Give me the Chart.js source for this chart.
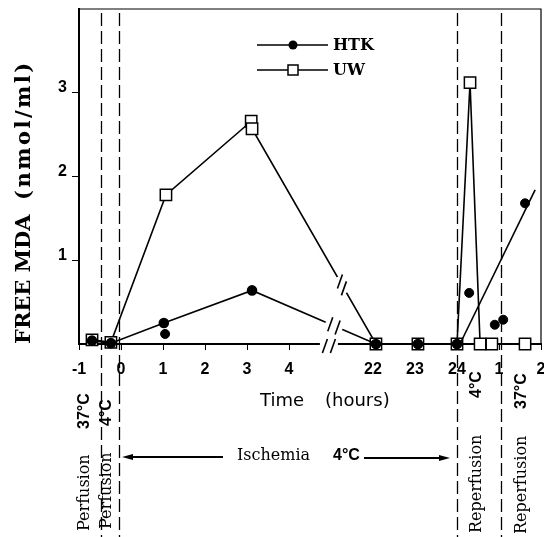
<!DOCTYPE html>
<html>
<head>
<meta charset="utf-8">
<script src="https://cdn.jsdelivr.net/npm/chart.js@4.4.1/dist/chart.umd.min.js"></script>
<style>
  html, body { margin: 0; padding: 0; background: #fff; }
</style>
</head>
<body>
<canvas id="mdaChart" width="544" height="537"></canvas>
<script>
// Time axis is compressed: -1..4 h, a break, then 22-24 h of ischemia, then reperfusion hours
const xTickLabels = ["-1", "0", "1", "2", "3", "4", "", "22", "23", "24", "1", "2"];
const yTickLabels = ["", "1", "2", "3", ""];

// UW (open squares)
const uwTime = [-0.69, -0.24, 1.07, 3.1, 3.12, 6.07, 7.07, 8.0, 8.31, 8.55, 8.83, 9.62];
const uwMda  = [0.05, 0.02, 1.78, 2.66, 2.57, 0, 0, 0, 3.12, 0, 0, 0];

// HTK (filled circles) joined by the line
const htkTime = [-0.69, -0.24, 1.02, 3.12, 6.07, 7.07, 8.0];
const htkMda  = [0.04, 0.01, 0.25, 0.64, 0, 0, 0];
// HTK values off the line
const htkExtraTime = [1.05, 8.29, 8.9, 9.1, 9.62];
const htkExtraMda  = [0.12, 0.61, 0.23, 0.29, 1.68];
// HTK trend line in reperfusion
const htkTrendTime = [8.07, 9.86];
const htkTrendMda  = [0, 1.84];

// phase boundaries (dashed lines) and where the axis break "//" sits
const phaseBounds = [-0.48, -0.05, 8.0, 9.05];
const breakAxis = 4.95, breakHtk = 5.07, breakUw = 5.26;

const pts = (xs, ys) => xs.map((x, i) => ({ x: x, y: ys[i] }));

function lineAt(xs, ys, u, sx, sy) {
    let i = 0;
    while (i < xs.length - 2 && xs[i + 1] < u) i++;
    const x1 = sx.getPixelForValue(xs[i]), y1 = sy.getPixelForValue(ys[i]);
    const x2 = sx.getPixelForValue(xs[i + 1]), y2 = sy.getPixelForValue(ys[i + 1]);
    const px = sx.getPixelForValue(u);
    const t = (px - x1) / (x2 - x1);
    const len = Math.hypot(x2 - x1, y2 - y1);
    return { px: px, py: y1 + t * (y2 - y1), dx: (x2 - x1) / len, dy: (y2 - y1) / len };
}

function breakMark(ctx, b) {
    ctx.save();
    ctx.strokeStyle = "#fff";
    ctx.lineWidth = 6;
    ctx.beginPath();
    ctx.moveTo(b.px - b.dx * 9, b.py - b.dy * 9);
    ctx.lineTo(b.px + b.dx * 9, b.py + b.dy * 9);
    ctx.stroke();
    ctx.strokeStyle = "#000";
    ctx.lineWidth = 1.6;
    [-4, 4].forEach(o => {
        const cx = b.px + b.dx * o, cy = b.py + b.dy * o;
        ctx.beginPath();
        ctx.moveTo(cx - 2.5, cy + 7);
        ctx.lineTo(cx + 2.5, cy - 7);
        ctx.stroke();
    });
    ctx.restore();
}

function vtext(ctx, str, x, yBottom, font, spacing) {
    ctx.save();
    ctx.translate(x, yBottom);
    ctx.rotate(-Math.PI / 2);
    ctx.font = font;
    ctx.letterSpacing = spacing || "0px";
    ctx.textAlign = "left";
    ctx.textBaseline = "middle";
    ctx.fillText(str, 0, 0);
    ctx.restore();
}

function arrow(ctx, x1, x2, y) {
    const dir = Math.sign(x2 - x1);
    ctx.beginPath();
    ctx.moveTo(x1, y);
    ctx.lineTo(x2 - dir * 8, y);
    ctx.stroke();
    ctx.beginPath();
    ctx.moveTo(x2, y);
    ctx.lineTo(x2 - dir * 11, y - 3);
    ctx.lineTo(x2 - dir * 11, y + 3);
    ctx.closePath();
    ctx.fill();
}

const serif = "'DejaVu Serif', serif";
const sans = "'DejaVu Sans', sans-serif";
const helv = "'Liberation Sans', Arial, sans-serif";

const decorations = {
    id: "decorations",
    beforeDatasetsDraw(chart) {
        const { ctx, chartArea: a, scales: { x } } = chart;
        ctx.save();
        ctx.strokeStyle = "#000";
        ctx.lineWidth = 1.3;
        ctx.setLineDash([13, 5]);
        phaseBounds.forEach(u => {
            const px = Math.round(x.getPixelForValue(u)) + 0.5;
            ctx.beginPath();
            ctx.moveTo(px, a.top + 4);
            ctx.lineTo(px, 537);
            ctx.stroke();
        });
        ctx.restore();
        // frame top + right
        ctx.save();
        ctx.strokeStyle = "#000";
        ctx.lineWidth = 1.2;
        ctx.beginPath();
        ctx.moveTo(a.left, a.top);
        ctx.lineTo(a.right, a.top);
        ctx.lineTo(a.right, a.bottom);
        ctx.stroke();
        ctx.restore();
    },
    afterDatasetsDraw(chart) {
        const { ctx, chartArea: a, scales: { x, y } } = chart;
        breakMark(ctx, { px: x.getPixelForValue(breakAxis), py: a.bottom + 2, dx: 1, dy: 0 });
        breakMark(ctx, lineAt(htkTime, htkMda, breakHtk, x, y));
        breakMark(ctx, lineAt(uwTime, uwMda, breakUw, x, y));
    },
    afterDraw(chart) {
        const { ctx } = chart;
        ctx.save();
        ctx.fillStyle = "#000";
        ctx.strokeStyle = "#000";

        // y title
        vtext(ctx, "FREE MDA", 25, 344, "bold 21px " + serif);
        vtext(ctx, "(nmol/ml)", 25, 200, "bold 21px " + serif, "2.5px");

        // x title
        ctx.font = "18px " + sans;
        ctx.textAlign = "left";
        ctx.textBaseline = "middle";
        ctx.fillText("Time", 260, 401);
        ctx.fillText("(hours)", 325, 401);

        // legend
        ctx.lineWidth = 1.5;
        ctx.beginPath();
        ctx.moveTo(257, 45); ctx.lineTo(328, 45);
        ctx.moveTo(257, 70); ctx.lineTo(328, 70);
        ctx.stroke();
        ctx.beginPath();
        ctx.arc(293, 45, 4.5, 0, Math.PI * 2);
        ctx.fill();
        ctx.fillStyle = "#fff";
        ctx.fillRect(288, 65, 10, 10);
        ctx.strokeRect(288, 65, 10, 10);
        ctx.fillStyle = "#000";
        ctx.font = "bold 16px " + serif;
        ctx.fillText("HTK", 333, 46);
        ctx.fillText("UW", 333, 71);

        // phases below the axis
        const phaseFont = "16px " + serif;
        const degFont = "bold 16px " + helv;
        vtext(ctx, "Perfusion", 85, 531, phaseFont);
        vtext(ctx, "37°C", 85, 429, degFont);
        vtext(ctx, "Perfusion", 107, 529, phaseFont);
        vtext(ctx, "4°C", 107, 426, degFont);
        vtext(ctx, "Reperfusion", 477, 533, phaseFont);
        vtext(ctx, "4°C", 477, 398, degFont);
        vtext(ctx, "Reperfusion", 522, 534, phaseFont);
        vtext(ctx, "37°C", 522, 409, degFont);

        ctx.font = phaseFont;
        ctx.fillText("Ischemia", 237, 456);
        ctx.font = degFont;
        ctx.fillText("4°C", 333, 456);
        ctx.lineWidth = 2;
        arrow(ctx, 223, 122, 457);
        arrow(ctx, 364, 450, 458);
        ctx.restore();
    }
};

new Chart(document.getElementById("mdaChart"), {
    type: "scatter",
    data: {
        datasets: [
            {
                label: "HTK",
                data: pts(htkTime, htkMda),
                showLine: true,
                borderColor: "#000",
                borderWidth: 1.6,
                pointStyle: "circle",
                pointRadius: 4.5,
                pointBackgroundColor: "#000",
                pointBorderColor: "#000",
                clip: false
            },
            {
                label: "HTK extra",
                data: pts(htkExtraTime, htkExtraMda),
                showLine: false,
                pointStyle: "circle",
                pointRadius: 4.5,
                pointBackgroundColor: "#000",
                pointBorderColor: "#000",
                clip: false
            },
            {
                label: "HTK trend",
                data: pts(htkTrendTime, htkTrendMda),
                showLine: true,
                borderColor: "#000",
                borderWidth: 1.6,
                pointRadius: 0,
                clip: false
            },
            {
                label: "UW",
                data: pts(uwTime, uwMda),
                showLine: true,
                borderColor: "#000",
                borderWidth: 1.6,
                pointStyle: "rect",
                pointRadius: 8,
                pointBackgroundColor: "#fff",
                pointBorderColor: "#000",
                pointBorderWidth: 1.5,
                clip: false
            }
        ]
    },
    options: {
        responsive: false,
        animation: false,
        events: [],
        layout: { autoPadding: false, padding: { top: 9, right: 3, left: 0, bottom: 0 } },
        plugins: { legend: { display: false }, tooltip: { enabled: false } },
        scales: {
            x: {
                type: "linear",
                min: -1,
                max: 10,
                afterFit: s => { s.height = 193; s.paddingLeft = 0; s.paddingRight = 0; },
                grid: {
                    drawOnChartArea: false,
                    tickLength: 6,
                    tickColor: c => (c.tick && c.tick.value === 5 ? "rgba(0,0,0,0)" : "#000")
                },
                border: { color: "#000", width: 2 },
                ticks: {
                    stepSize: 1,
                    autoSkip: false,
                    maxRotation: 0,
                    padding: 10,
                    color: "#000",
                    font: { family: "Liberation Sans", size: 16, weight: "bold" },
                    callback: v => xTickLabels[v + 1] || ""
                }
            },
            y: {
                min: 0,
                max: 4,
                afterFit: s => { s.width = 79; s.paddingTop = 0; s.paddingBottom = 0; },
                grid: {
                    drawOnChartArea: false,
                    tickLength: 7,
                    tickColor: c => (c.tick && yTickLabels[c.tick.value] ? "#000" : "rgba(0,0,0,0)")
                },
                border: { color: "#000", width: 2 },
                ticks: {
                    stepSize: 1,
                    padding: 5,
                    labelOffset: -5,
                    color: "#000",
                    font: { family: "Liberation Sans", size: 16, weight: "bold" },
                    callback: v => yTickLabels[v] || ""
                }
            }
        }
    },
    plugins: [decorations]
});
</script>
</body>
</html>
